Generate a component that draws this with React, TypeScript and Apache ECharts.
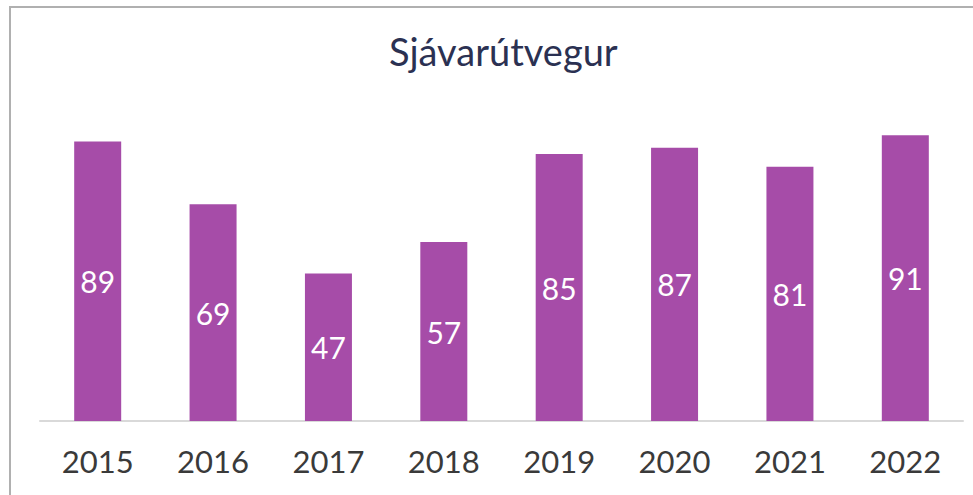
import React, { useEffect, useRef } from "react";
import * as echarts from "echarts";

const categories = ["2015", "2016", "2017", "2018", "2019", "2020", "2021", "2022"];
const values = [89, 69, 47, 57, 85, 87, 81, 91];
const title = "Sjávarútvegur";

export default function App() {
  const ref = useRef<HTMLDivElement>(null);
  useEffect(() => {
    document.body.style.margin = "0";
    const chart = echarts.init(ref.current!, null, { renderer: "svg" });
    chart.setOption({
      animation: false,
      backgroundColor: "#ffffff",
      title: {
        text: title,
        left: 384,
        top: 27,
        textStyle: { fontFamily: "Lato", fontSize: 38, fontWeight: "normal", color: "#2b3152" },
      },
      graphic: [
        {
          type: "rect",
          shape: { x: 10, y: 7, width: 1000, height: 1000 },
          style: { fill: "none", stroke: "#b0b0b0", lineWidth: 2 },
          silent: true,
        },
      ],
      grid: { left: 40, right: 10, top: 107, bottom: 74 },
      xAxis: {
        type: "category",
        data: categories,
        axisTick: { show: false },
        axisLine: { lineStyle: { color: "#d9d9d9", width: 2 } },
        axisLabel: { fontFamily: "Lato", fontSize: 31, color: "#3a3a3a", margin: 24 },
      },
      yAxis: {
        type: "value",
        min: 0,
        max: 100,
        show: false,
        splitLine: { show: false },
      },
      series: [
        {
          type: "bar",
          data: values,
          barWidth: 47,
          itemStyle: { color: "#a64ca8" },
          label: {
            show: true,
            position: "inside",
            fontFamily: "Lato",
            fontSize: 30,
            color: "#ffffff",
          },
        },
      ],
    });
    return () => chart.dispose();
  }, []);
  return <div ref={ref} style={{ width: 973, height: 495 }} />;
}
